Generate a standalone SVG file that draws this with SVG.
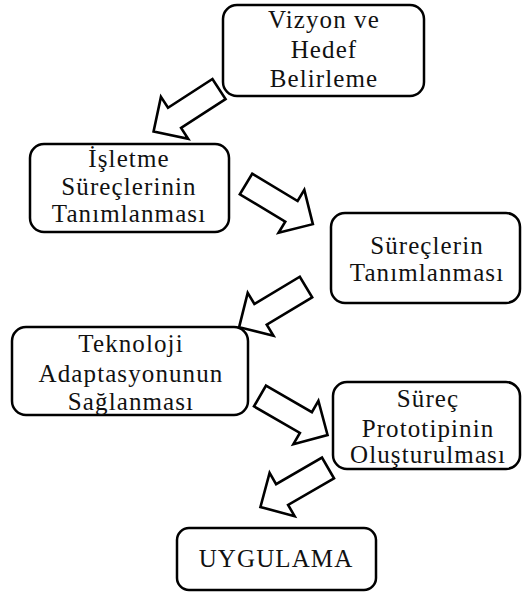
<svg xmlns="http://www.w3.org/2000/svg" width="522" height="594" viewBox="0 0 522 594">
<defs>
<style>
.box{fill:#fff;stroke:#000;stroke-width:2.5}
.t{font-family:"Liberation Serif","Times New Roman",serif;font-size:25px;letter-spacing:1.1px;text-anchor:middle;fill:#111}
.arr{fill:#fff;stroke:#000;stroke-width:2.6;stroke-linejoin:miter}
</style>
<path id="arrow" d="M0,-12 H53 V-25 L78,0 L53,25 V12 H0 Z"/>
</defs>
<rect width="522" height="594" fill="#fff"/>
<g id="connectors">
<use href="#arrow" class="arr" transform="translate(219,89) rotate(147)"/>
<use href="#arrow" class="arr" transform="translate(246,184) rotate(31)"/>
<use href="#arrow" class="arr" transform="translate(306,287) rotate(149)"/>
<use href="#arrow" class="arr" transform="translate(260,396) rotate(30)"/>
<use href="#arrow" class="arr" transform="translate(328,468) rotate(150)"/>
</g>
<g id="n1">
<rect class="box" x="223" y="5" width="201" height="91" rx="14"/>
<text class="t" x="324" y="28">Vizyon ve</text>
<text class="t" x="324" y="58">Hedef</text>
<text class="t" x="324" y="87">Belirleme</text>
</g>
<g id="n2">
<rect class="box" x="30" y="144" width="199" height="88" rx="14"/>
<text class="t" x="129" y="167">İşletme</text>
<text class="t" x="129" y="195">Süreçlerinin</text>
<text class="t" x="129" y="222">Tanımlanması</text>
</g>
<g id="n3">
<rect class="box" x="331" y="213" width="189" height="90" rx="14"/>
<text class="t" x="427" y="254">Süreçlerin</text>
<text class="t" x="427" y="281">Tanımlanması</text>
</g>
<g id="n4">
<rect class="box" x="12" y="327" width="236" height="88" rx="14"/>
<text class="t" x="131" y="352">Teknoloji</text>
<text class="t" x="131" y="382">Adaptasyonunun</text>
<text class="t" x="131" y="410">Sağlanması</text>
</g>
<g id="n5">
<rect class="box" x="333" y="382" width="187" height="87" rx="14"/>
<text class="t" x="428" y="407">Süreç</text>
<text class="t" x="428" y="437">Prototipinin</text>
<text class="t" x="428" y="463">Oluşturulması</text>
</g>
<g id="n6">
<rect class="box" x="177" y="528" width="199" height="62" rx="12"/>
<text class="t" x="276" y="567">UYGULAMA</text>
</g>
</svg>
